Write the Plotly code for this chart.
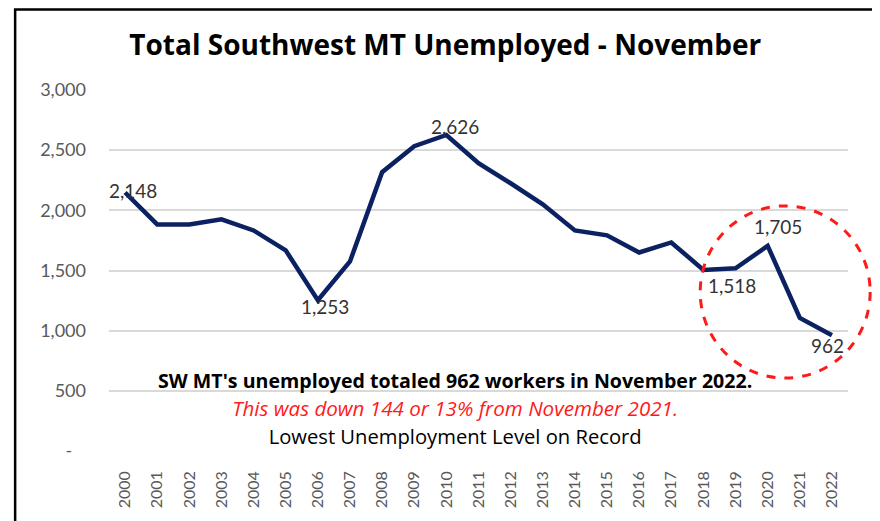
import plotly.graph_objects as go

years = [str(y) for y in range(2000, 2023)]
unemployed = [2148, 1883, 1883, 1925, 1833, 1667, 1253, 1575, 2317, 2533, 2626,
              2392, 2225, 2050, 1833, 1792, 1650, 1733, 1505, 1518, 1705, 1106, 962]

# which points carry a value label, and the label offset (px)
label_idx = [0, 6, 10, 19, 20, 22]
label_dx = [8, 7, 9, -4, 10, -4]
label_dy = [2, -6, 9, -17, 19, -10]

ytick_vals = [0, 500, 1000, 1500, 2000, 2500, 3000]
ytick_text = ["-\u00a0\u00a0\u00a0", "500", "1,000", "1,500", "2,000", "2,500", "3,000"]

title_text = "Total Southwest MT Unemployed - November"
note1 = "SW MT's unemployed totaled 962 workers in November 2022."
note2 = "This was down 144 or 13% from November 2021."
note3 = "Lowest Unemployment Level on Record"

NUMFONT = "Lato"
TXTFONT = "Open Sans"
NAVY = "#0b2161"

fig = go.Figure()
fig.add_trace(go.Scatter(x=years, y=unemployed, mode="lines",
                         line=dict(color=NAVY, width=4.5), hoverinfo="skip"))

annotations = []
for i, dx, dy in zip(label_idx, label_dx, label_dy):
    annotations.append(dict(x=i, y=unemployed[i], xref="x", yref="y",
                            text=f"{unemployed[i]:,}", showarrow=False,
                            xshift=dx, yshift=dy,
                            font=dict(family=NUMFONT, size=19, color="#333333")))

notes_html = (
    f"<span style='font-size:19.6px'><b>{note1}</b></span><br>"
    f"<span style='font-size:20.6px;color:#ff1a1a'><i>{note2}</i></span><br>"
    f"<span style='font-size:20.2px'>{note3}</span>"
)
annotations.append(dict(x=0.468, y=0.119, xref="paper", yref="paper", text=notes_html,
                        xanchor="center", yanchor="middle", align="center",
                        showarrow=False,
                        font=dict(family=TXTFONT, size=21.5, color="#000000")))

shapes = [
    # outer frame
    dict(type="rect", xref="paper", yref="paper", x0=-0.127, x1=1.0365,
         y0=-0.25, y1=1.223, line=dict(color="#000000", width=2.5)),
    # red dashed circle
    dict(type="circle", xref="paper", yref="paper", x0=0.80, x1=1.03,
         y0=0.202, y1=0.679, line=dict(color="#ff1a1a", width=3, dash="dash")),
]

fig.update_layout(
    width=872, height=513,
    margin=dict(l=101, r=32, t=82, b=70, autoexpand=False),
    paper_bgcolor="white", plot_bgcolor="white",
    showlegend=False,
    title=dict(text=f"<b>{title_text}</b>", x=0.455, xref="paper", xanchor="center",
               y=1 - 37 / 513, yref="container", yanchor="middle",
               font=dict(family=TXTFONT, size=28, color="#000000")),
    annotations=annotations, shapes=shapes,
    xaxis=dict(type="category", range=[-0.5, 22.5], tickangle=-90,
               showgrid=False, showline=False, zeroline=False,
               ticklabelstandoff=16,
               tickfont=dict(family=NUMFONT, size=16, color="#595959"),
               ticks="", fixedrange=True),
    yaxis=dict(range=[0, 3000], tickvals=ytick_vals, ticktext=ytick_text,
               showgrid=True, gridcolor="#d9d9d9", gridwidth=1.5,
               zeroline=False, showline=False, ticks="",
               ticklabelstandoff=22,
               tickfont=dict(family=NUMFONT, size=18, color="#595959")),
)

fig.write_html("out.html")
